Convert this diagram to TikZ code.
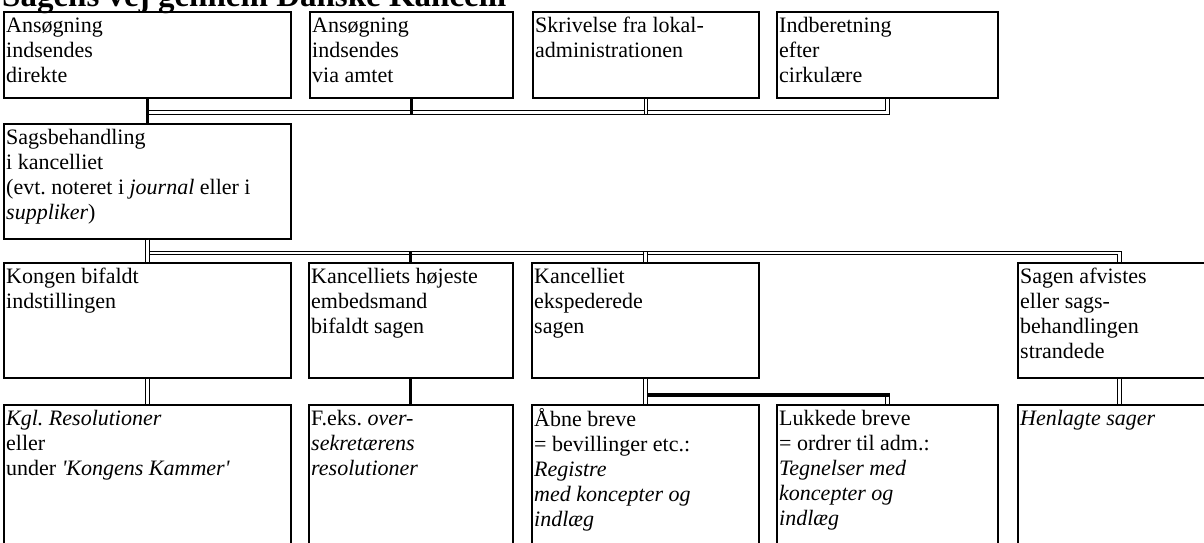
\documentclass[tikz,border=0pt]{standalone}
\usepackage{fontspec}
\setmainfont{Liberation Serif}
\frenchspacing
\begin{document}
\begin{tikzpicture}[x=1pt,y=-1pt,
  box/.style={draw, line width=1.7pt, anchor=north west, inner sep=0pt},
  txt/.style={anchor=north west, inner xsep=0pt, inner ysep=0pt, align=left, font=\fontsize{22}{25}\selectfont},
  dbl/.style={draw, line width=1pt, double=white, double distance=2.6pt},
  thk/.style={draw, line width=3.2pt}]
\useasboundingbox (0,0) rectangle (1204,542);
\clip (0,0) rectangle (1204,542);
\fill[white] (0,0) rectangle (1204,542);
% title
\node[anchor=base west, inner sep=0pt, font=\fontsize{33}{36}\bfseries\selectfont] (title) at (2,6) {Sagens vej gennem Danske Kancelli};
% row 1
\node[box, minimum width=287pt, minimum height=86pt] (b1) at (3,11) {};
\node[box, minimum width=203pt, minimum height=86pt] (b2) at (309,11) {};
\node[box, minimum width=226pt, minimum height=86pt] (b3) at (532,11) {};
\node[box, minimum width=221pt, minimum height=86pt] (b4) at (776,11) {};
% sagsbehandling
\node[box, minimum width=287pt, minimum height=115pt] (s) at (3,123) {};
% row 2
\node[box, minimum width=287pt, minimum height=115pt] (r2a) at (3,262) {};
\node[box, minimum width=204pt, minimum height=115pt] (r2b) at (308,262) {};
\node[box, minimum width=227pt, minimum height=115pt] (r2c) at (531,262) {};
\node[box, minimum width=203pt, minimum height=115pt] (r2d) at (1017,262) {};
% row 3
\node[box, minimum width=287pt, minimum height=160pt] (r3a) at (3,404) {};
\node[box, minimum width=204pt, minimum height=160pt] (r3b) at (308,404) {};
\node[box, minimum width=227pt, minimum height=160pt] (r3c) at (531,404) {};
\node[box, minimum width=221pt, minimum height=160pt] (r3d) at (776,404) {};
\node[box, minimum width=203pt, minimum height=160pt] (r3e) at (1017,404) {};
% texts
\newcommand{\fl}{\rule{0pt}{17pt}}
\node[txt] (b1t) at ([shift={(3,4)}]b1.north west) {\fl Ansøgning\\indsendes\\direkte};
\node[txt] (b2t) at ([shift={(3,4)}]b2.north west) {\fl Ansøgning\\indsendes\\via amtet};
\node[txt] (b3t) at ([shift={(3,4)}]b3.north west) {\fl Skrivelse fra lokal-\\administrationen};
\node[txt] (b4t) at ([shift={(3,4)}]b4.north west) {\fl Indberetning\\efter\\cirkulære};
\node[txt] (st) at ([shift={(3,4)}]s.north west) {\fl Sagsbehandling\\i kancelliet\\(evt. noteret i \textit{journal} eller i\\\textit{suppliker})};
\node[txt] (r2at) at ([shift={(3,4)}]r2a.north west) {\fl Kongen bifaldt\\indstillingen};
\node[txt] (r2bt) at ([shift={(3,4)}]r2b.north west) {\fl Kancelliets højeste\\embedsmand\\bifaldt sagen};
\node[txt] (r2ct) at ([shift={(3,4)}]r2c.north west) {\fl Kancelliet\\ekspederede\\sagen};
\node[txt] (r2dt) at ([shift={(3,4)}]r2d.north west) {\fl Sagen afvistes\\eller sags-\\behandlingen\\strandede};
\node[txt] (r3at) at ([shift={(3,4)}]r3a.north west) {\fl\textit{Kgl. Resolutioner}\\eller\\under \textit{\textquotesingle Kongens Kammer\textquotesingle}};
\node[txt] (r3bt) at ([shift={(3,4)}]r3b.north west) {\fl F.eks. \textit{over-}\\\textit{sekretærens}\\\textit{resolutioner}};
\node[txt] (r3ct) at ([shift={(3,4)}]r3c.north west) {\fl Åbne breve\\= bevillinger etc.:\\\textit{Registre}\\\textit{med koncepter og}\\\textit{indlæg}};
\node[txt] (r3dt) at ([shift={(3,4)}]r3d.north west) {\fl Lukkede breve\\= ordrer til adm.:\\\textit{Tegnelser med}\\\textit{koncepter og}\\\textit{indlæg}};
\node[txt] (r3et) at ([shift={(3,4)}]r3e.north west) {\fl\textit{Henlagte sager}};
% level 1 connectors
\coordinate (h1) at (0,112.5);
\draw[dbl] (b1.south |- h1) -| (b4.south);
\draw[dbl] (b3.south) -- ([yshift=-1.3pt]b3.south |- h1);
\draw[thk] (b2.south) -- ([yshift=-1.6pt]b2.south |- h1);
\draw[thk] (b1.south) -- (s.north);
% level 2 connectors
\coordinate (h2) at (0,253);
\draw[dbl] (s.south |- h2) -| (r2d.north);
\draw[dbl] (s.south) -- (r2a.north);
\draw[dbl] (r2c.north) -- ([yshift=1.3pt]r2c.north |- h2);
\draw[thk] (r2b.north) -- ([yshift=1.6pt]r2b.north |- h2);
% level 3 connectors
\coordinate (h3) at (0,395);
\draw[dbl] (r2a.south) -- (r3a.north);
\draw[thk] (r2b.south) -- (r3b.north);
\draw[thk] (r2c.south |- h3) -- ([xshift=2.3pt]r3d.north |- h3);
\draw[dbl] ([yshift=-1.6pt]r3d.north |- h3) -- (r3d.north);
\draw[dbl] (r2c.south) -- (r3c.north);
\draw[dbl] (r2d.south) -- (r3e.north);
\end{tikzpicture}
\end{document}
